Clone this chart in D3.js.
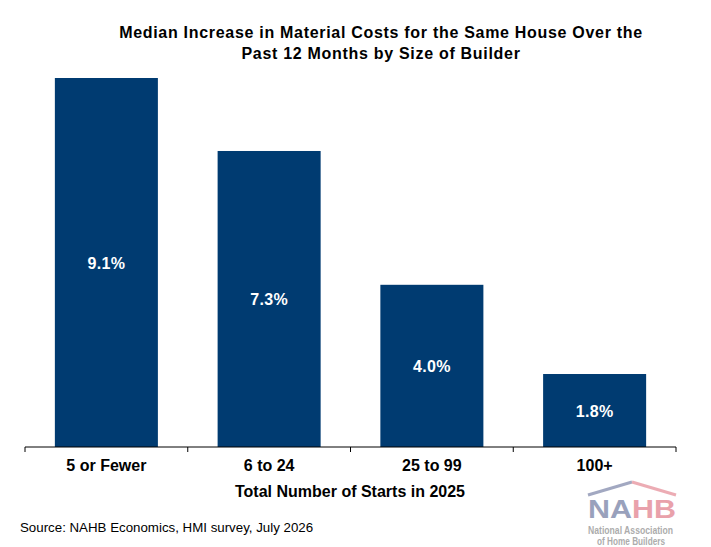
<!DOCTYPE html>
<html><head><meta charset="utf-8">
<script src="https://cdn.jsdelivr.net/npm/d3@7"></script>
<style>body{margin:0;background:#fff}svg{display:block;font-family:Arial,"Liberation Sans",sans-serif}</style>
</head><body><svg id="c" width="711" height="547"></svg>
<script>
const categories = ["5 or Fewer", "6 to 24", "25 to 99", "100+"];
const values = [9.1, 7.3, 4.0, 1.8];
const titleLines = ["Median Increase in Material Costs for the Same House Over the", "Past 12 Months by Size of Builder"];
const xTitle = "Total Number of Starts in 2025";
const source = "Source: NAHB Economics, HMI survey, July 2026";

const svg = d3.select("#c");
const x = d3.scaleBand().domain(categories).range([25, 676]).paddingInner(0.367).paddingOuter(0.1835);
const y = d3.scaleLinear().domain([0, 9.1]).range([447, 78]);
const color = "#003b71";

svg.selectAll("rect.bar").data(values).join("rect").attr("class","bar")
  .attr("x",(d,i)=>x(categories[i])).attr("width",x.bandwidth())
  .attr("y",d=>y(d)).attr("height",d=>y(0)-y(d)).attr("fill",color);

svg.selectAll("text.val").data(values).join("text").attr("class","val")
  .attr("x",(d,i)=>x(categories[i])+x.bandwidth()/2)
  .attr("y",d=>(y(d)+y(0))/2+6)
  .attr("text-anchor","middle").attr("fill","#fff").attr("font-weight","bold").attr("font-size",16)
  .attr("letter-spacing",0.3)
  .text(d=>d.toFixed(1)+"%");

// axis
const xt = d3.scaleBand().domain(categories).range([25,676]);
const g = svg.append("g").attr("transform","translate(0,447)");
g.append("line").attr("x1",25).attr("x2",676).attr("stroke","#000").attr("stroke-width",1);
const edges = categories.map(c=>xt(c)).concat([676]);
g.selectAll("line.tk").data(edges).join("line").attr("class","tk")
  .attr("x1",d=>d).attr("x2",d=>d).attr("y1",0).attr("y2",5).attr("stroke","#000");
g.selectAll("text.cat").data(categories).join("text").attr("class","cat")
  .attr("x",d=>xt(d)+xt.bandwidth()/2).attr("y",24)
  .attr("text-anchor","middle").attr("font-weight","bold").attr("font-size",16).text(d=>d);

svg.append("text").attr("x",350).attr("y",497).attr("text-anchor","middle")
  .attr("font-weight","bold").attr("font-size",16).text(xTitle);

svg.selectAll("text.title").data(titleLines).join("text").attr("class","title")
  .attr("x",381).attr("y",(d,i)=>38+i*20.5).attr("text-anchor","middle")
  .attr("font-weight","bold").attr("font-size",16).attr("letter-spacing",0.7).text(d=>d);

svg.append("text").attr("x",20).attr("y",532).attr("font-size",13.3).text(source);

// logo
const lg = svg.append("g").attr("opacity",0.7);
lg.append("path").attr("d","M588,495 L632,482").attr("stroke","#7b84a8").attr("stroke-width",3).attr("fill","none");
lg.append("path").attr("d","M632,482 L676,495").attr("stroke","#e58a95").attr("stroke-width",3).attr("fill","none");
const t = lg.append("text").attr("x",588).attr("y",518).attr("font-weight","bold").attr("font-size",26)
  .attr("textLength",88).attr("lengthAdjust","spacingAndGlyphs");
t.append("tspan").attr("fill","#6f7aa0").text("NA");
t.append("tspan").attr("fill","#e07a88").text("HB");
lg.append("text").attr("x",588).attr("y",534).attr("font-size",10).attr("font-weight","bold").attr("fill","#8a8a8a")
  .attr("textLength",85).attr("lengthAdjust","spacingAndGlyphs").text("National Association");
lg.append("text").attr("x",597).attr("y",545).attr("font-size",10).attr("font-weight","bold").attr("fill","#8a8a8a")
  .attr("textLength",68).attr("lengthAdjust","spacingAndGlyphs").text("of Home Builders");
</script></body></html>
